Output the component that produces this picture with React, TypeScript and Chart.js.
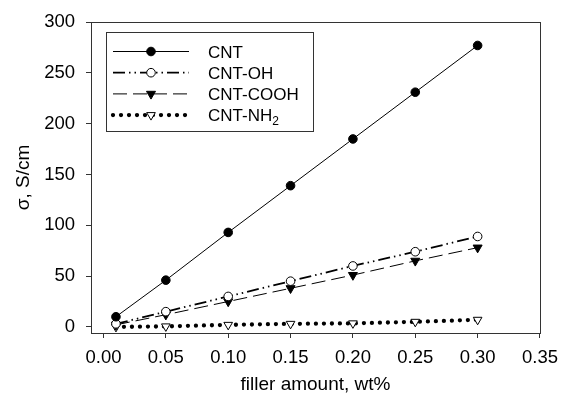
import React, { useEffect, useRef } from 'react';
import { Chart, registerables } from 'chart.js';

Chart.register(...registerables);

const fillerAmount = [0.01, 0.05, 0.1, 0.15, 0.2, 0.25, 0.3];
const sigmaCNT = [10, 46, 93, 139, 185, 231, 277];
const sigmaCNTOH = [3, 15, 30, 45, 60, 74, 89];
const sigmaCNTCOOH = [2, 12, 25, 38, 51, 65, 78];
const sigmaCNTNH2 = [0, 0.5, 2, 3, 3.5, 5, 7];
const seriesNames = ['CNT', 'CNT-OH', 'CNT-COOH', 'CNT-NH2'];
const xTickValues = [0, 0.05, 0.1, 0.15, 0.2, 0.25, 0.3, 0.35];
const yTickValues = [0, 50, 100, 150, 200, 250, 300];
const xAxisTitle = 'filler amount, wt%';
const yAxisTitle = 'σ, S/cm';

const FONT = "'Liberation Sans', Arial, sans-serif";
const AXIS = '#333';

function drawMarker(ctx: CanvasRenderingContext2D, style: string, x: number, y: number, r: number, fill: string, stroke: string) {
  ctx.save();
  ctx.setLineDash([]);
  ctx.lineWidth = 1;
  ctx.fillStyle = fill;
  ctx.strokeStyle = stroke;
  ctx.beginPath();
  if (style === 'circle') {
    ctx.arc(x, y, r, 0, Math.PI * 2);
  } else {
    const s = r * Math.sin(Math.PI / 3);
    const c = r * 0.5;
    ctx.moveTo(x - s, y - c);
    ctx.lineTo(x + s, y - c);
    ctx.lineTo(x, y + r);
    ctx.closePath();
  }
  ctx.fill();
  ctx.stroke();
  ctx.restore();
}

const frameLegendPlugin = {
  id: 'frameLegend',
  afterDatasetsDraw(chart: any) {
    const { ctx, chartArea: a } = chart;
    ctx.save();
    ctx.strokeStyle = AXIS;
    ctx.lineWidth = 1;
    ctx.strokeRect(Math.round(a.left) + 0.5, Math.round(a.top) + 0.5, Math.round(a.right - a.left), Math.round(a.bottom - a.top));

    const bx = Math.round(a.left) + 15;
    const by = Math.round(a.top) + 10;
    const bw = 207;
    const bh = 99;
    ctx.fillStyle = '#fff';
    ctx.fillRect(bx, by, bw, bh);
    ctx.strokeStyle = AXIS;
    ctx.strokeRect(bx + 0.5, by + 0.5, bw, bh);

    chart.data.datasets.forEach((ds: any, i: number) => {
      const y = by + 19.5 + i * 21.2;
      const x1 = bx + 7;
      const x2 = bx + 83;
      const xm = (x1 + x2) / 2;
      ctx.save();
      ctx.beginPath();
      ctx.setLineDash(ds.borderDash || []);
      ctx.lineWidth = ds.borderWidth;
      ctx.lineCap = ds.borderCapStyle || 'butt';
      ctx.strokeStyle = ds.borderColor;
      ctx.moveTo(x1, y);
      ctx.lineTo(x2, y);
      ctx.stroke();
      ctx.restore();
      drawMarker(ctx, ds.pointStyle, xm, y, ds.pointRadius, ds.pointBackgroundColor, ds.pointBorderColor);

      const label: string = ds.label;
      const m = label.match(/^(.*[A-Z])(\d+)$/);
      const main = m ? m[1] : label;
      const sub = m ? m[2] : '';
      ctx.fillStyle = '#000';
      ctx.textAlign = 'left';
      ctx.textBaseline = 'alphabetic';
      ctx.font = `17px ${FONT}`;
      const tx = bx + 102;
      const ty = y + 6;
      ctx.fillText(main, tx, ty);
      if (sub) {
        const w = ctx.measureText(main).width;
        ctx.font = `12px ${FONT}`;
        ctx.fillText(sub, tx + w, ty + 4);
      }
    });
    ctx.restore();
  },
};

export default function App() {
  const canvasRef = useRef<HTMLCanvasElement | null>(null);

  useEffect(() => {
    const canvas = canvasRef.current;
    if (!canvas) return;
    const toPts = (ys: number[]) => fillerAmount.map((x, i) => ({ x, y: ys[i] }));
    const chart = new Chart(canvas, {
      type: 'line',
      data: {
        datasets: [
          {
            label: seriesNames[0],
            data: toPts(sigmaCNT),
            borderColor: '#000',
            borderWidth: 1,
            pointStyle: 'circle',
            pointRadius: 4.3,
            pointBackgroundColor: '#000',
            pointBorderColor: '#000',
            pointBorderWidth: 1,
          },
          {
            label: seriesNames[1],
            data: toPts(sigmaCNTOH),
            borderColor: '#000',
            borderWidth: 1.8,
            borderDash: [12, 4, 1.5, 4, 1.5, 4],
            pointStyle: 'circle',
            pointRadius: 4.3,
            pointBackgroundColor: '#fff',
            pointBorderColor: '#000',
            pointBorderWidth: 1,
          },
          {
            label: seriesNames[2],
            data: toPts(sigmaCNTCOOH),
            borderColor: '#000',
            borderWidth: 1,
            borderDash: [14, 6],
            pointStyle: 'triangle',
            pointRotation: 180,
            pointRadius: 5.2,
            pointBackgroundColor: '#000',
            pointBorderColor: '#000',
            pointBorderWidth: 1,
          },
          {
            label: seriesNames[3],
            data: toPts(sigmaCNTNH2),
            borderColor: '#000',
            borderWidth: 4.3,
            borderDash: [0, 8],
            borderCapStyle: 'round',
            pointStyle: 'triangle',
            pointRotation: 180,
            pointRadius: 5,
            pointBackgroundColor: '#fff',
            pointBorderColor: '#000',
            pointBorderWidth: 1,
          },
        ] as any,
      },
      options: {
        responsive: false,
        animation: false,
        devicePixelRatio: 1,
        layout: { padding: { left: 0, top: 17, right: 26, bottom: 0 } },
        plugins: { legend: { display: false }, tooltip: { enabled: false } },
        elements: { line: { tension: 0 } },
        scales: {
          x: {
            type: 'linear',
            min: -0.01,
            max: 0.35,
            afterBuildTicks: (s: any) => {
              s.ticks = xTickValues.map((v) => ({ value: v }));
            },
            afterFit: (s: any) => {
              s.height = 68;
            },
            ticks: {
              callback: (v: any) => Number(v).toFixed(2),
              font: { family: FONT, size: 18.5 },
              color: '#000',
              padding: 9,
              autoSkip: false,
              maxRotation: 0,
            },
            grid: { drawOnChartArea: false, drawTicks: true, tickLength: 5, color: AXIS, tickColor: AXIS },
            border: { display: true, color: AXIS },
            title: {
              display: true,
              text: xAxisTitle,
              font: { family: FONT, size: 19 },
              color: '#000',
              padding: { top: 0, bottom: 5 },
            },
          },
          y: {
            type: 'linear',
            min: -6,
            max: 300,
            afterBuildTicks: (s: any) => {
              s.ticks = yTickValues.map((v) => ({ value: v }));
            },
            afterFit: (s: any) => {
              s.width = 91;
            },
            ticks: {
              callback: (v: any) => String(v),
              font: { family: FONT, size: 18.5 },
              color: '#000',
              padding: 11,
              autoSkip: false,
            },
            grid: { drawOnChartArea: false, drawTicks: true, tickLength: 5, color: AXIS, tickColor: AXIS },
            border: { display: true, color: AXIS },
            title: {
              display: true,
              text: yAxisTitle,
              font: { family: FONT, size: 19 },
              color: '#000',
              padding: { top: 12, bottom: 0 },
            },
          },
        },
      } as any,
      plugins: [frameLegendPlugin],
    });
    return () => chart.destroy();
  }, []);

  return (
    <div style={{ position: 'absolute', left: 0, top: 0, width: 567, height: 401, background: '#fff' }}>
      <canvas ref={canvasRef} width={567} height={401} />
    </div>
  );
}
